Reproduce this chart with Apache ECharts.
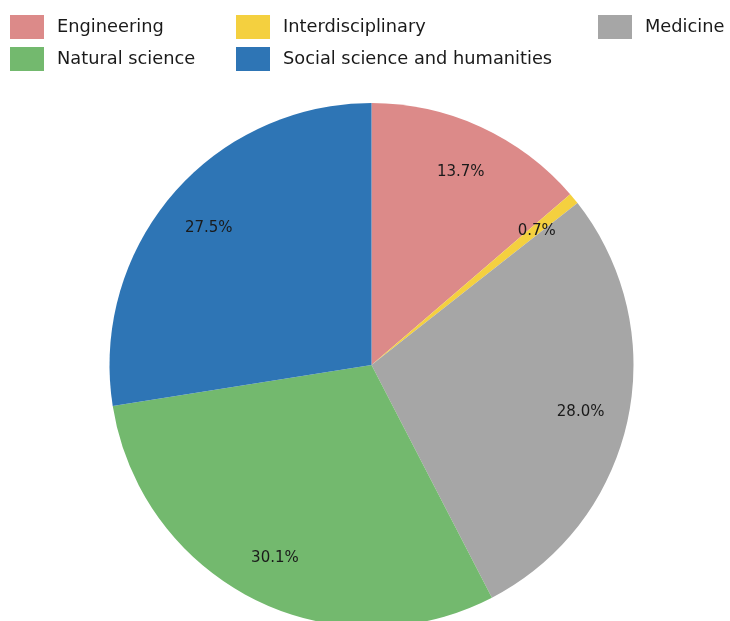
<!DOCTYPE html>
<html>
<head>
<meta charset="utf-8">
<script src="https://cdn.jsdelivr.net/npm/echarts@6/dist/echarts.min.js"></script>
<style>
  html, body { margin: 0; padding: 0; background: #ffffff; }
  #chart { width: 730px; height: 621px; }
</style>
</head>
<body>
<div id="chart"></div>
<script>
// Share of items by field
const categories = ['Engineering', 'Interdisciplinary', 'Medicine', 'Natural science', 'Social science and humanities'];
const shares = [13.7, 0.7, 28.0, 30.1, 27.5];
const colors = ['#dc8a89', '#f4d03f', '#a6a6a6', '#73b96e', '#2e75b5'];

const FONT = '"DejaVu Sans", "Noto Sans", sans-serif';

const pieData = categories.map((name, i) => ({
  name: name,
  value: shares[i],
  itemStyle: { color: colors[i] }
}));

const legendBase = {
  orient: 'vertical',
  top: 15,
  padding: 0,
  itemWidth: 34,
  itemHeight: 24,
  itemGap: 8,
  icon: 'rect',
  selectedMode: false,
  textStyle: { fontFamily: FONT, fontSize: 17.8, color: '#1a1a1a', padding: [0, 0, 0, 8] }
};

const chart = echarts.init(document.getElementById('chart'), null, { renderer: 'canvas' });
chart.setOption({
  animation: false,
  legend: [
    Object.assign({}, legendBase, { left: 10, data: [categories[0], categories[3]] }),
    Object.assign({}, legendBase, { left: 236, data: [categories[1], categories[4]] }),
    Object.assign({}, legendBase, { left: 598, data: [categories[2]] })
  ],
  series: [
    {
      type: 'pie',
      center: [371.5, 365],
      radius: [0, 262],
      startAngle: 90,
      clockwise: true,
      avoidLabelOverlap: false,
      label: { show: false },
      labelLine: { show: false },
      emphasis: { disabled: true },
      data: pieData
    },
    {
      // transparent ring carrying the percentage labels
      type: 'pie',
      center: [371.5, 367],
      radius: [160, 262],
      startAngle: 90,
      clockwise: true,
      silent: true,
      avoidLabelOverlap: false,
      itemStyle: { color: 'rgba(0,0,0,0)' },
      label: {
        show: true,
        position: 'inside',
        formatter: p => p.value.toFixed(1) + '%',
        fontFamily: FONT,
        fontSize: 15,
        color: '#1a1a1a'
      },
      labelLine: { show: false },
      emphasis: { disabled: true },
      legendHoverLink: false,
      data: categories.map((name, i) => ({ name: name + ' ', value: shares[i] }))
    }
  ]
});
</script>
</body>
</html>
